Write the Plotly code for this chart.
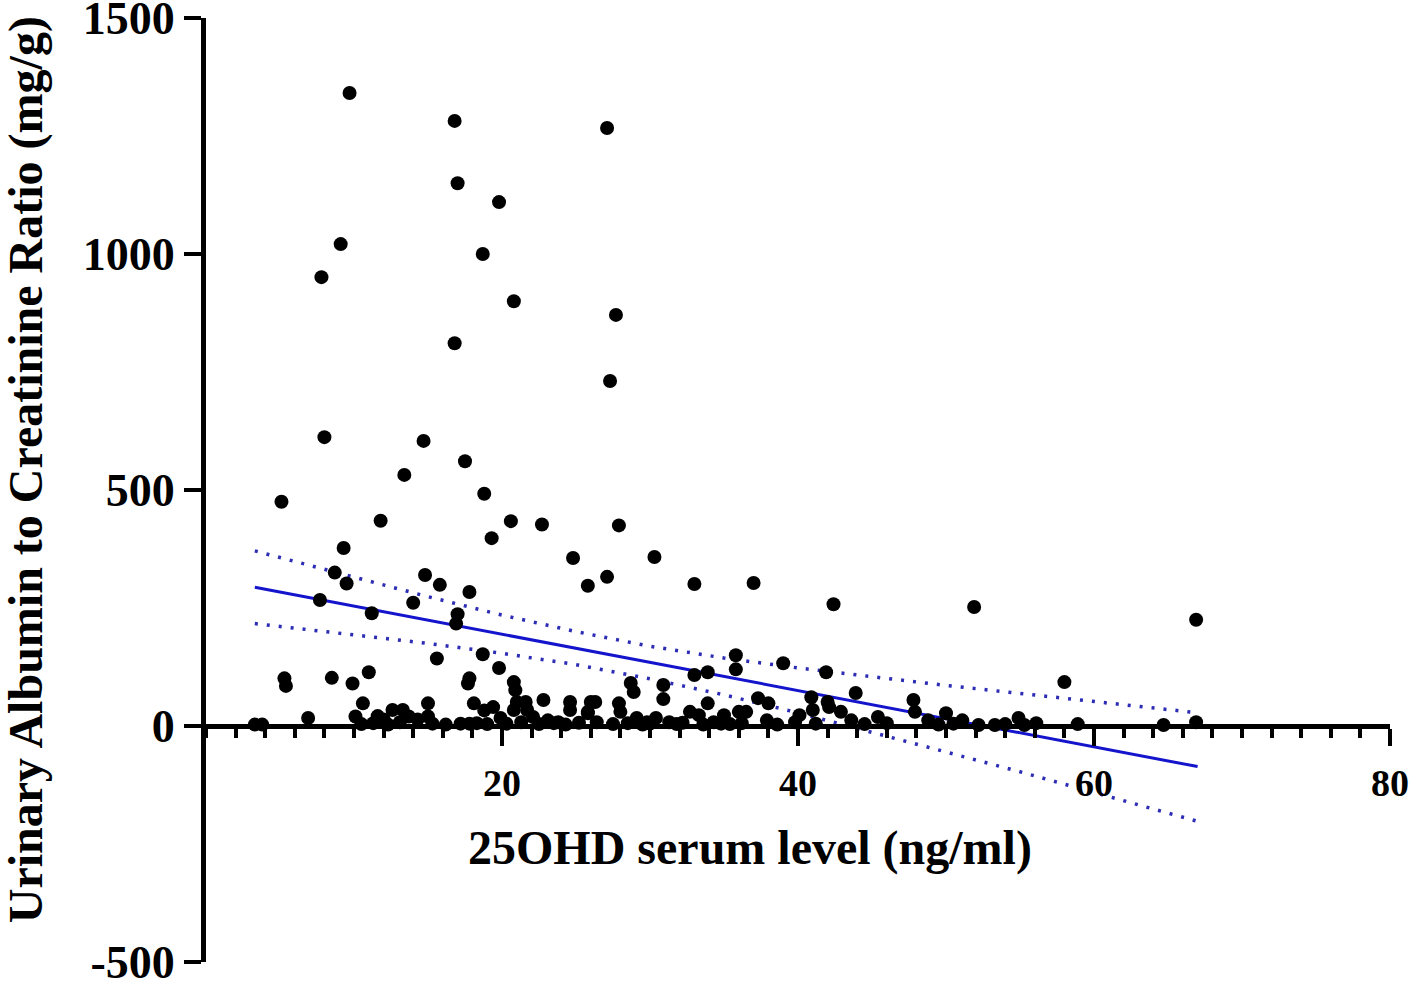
import plotly.graph_objects as go

# Scatter data (25OHD ng/ml, UACR mg/g)
pts = [
    (3.3, 3), (3.8, 3), (5.1, 475), (5.3, 101), (5.4, 85), (6.9, 17), (7.7, 267), (7.8, 951),
    (8.0, 612), (8.5, 102), (8.7, 325), (9.1, 1021), (9.3, 377), (9.5, 302), (9.7, 1341), (9.9, 90),
    (10.1, 20), (10.6, 48), (11.0, 114), (11.2, 239), (11.6, 21), (11.8, 435), (12.0, 14), (12.6, 34),
    (13.3, 34), (13.1, 8), (13.4, 532), (13.7, 20), (14.0, 261), (14.3, 14), (14.7, 604), (14.8, 320),
    (15.0, 48), (15.0, 20), (15.6, 143), (15.8, 299), (16.8, 1282), (16.8, 811), (17.0, 1150), (16.9, 217),
    (17.0, 237), (17.5, 561), (17.8, 284), (17.8, 101), (17.7, 90), (17.2, 5), (17.8, 5), (18.1, 48),
    (18.7, 1000), (18.8, 492), (18.7, 152), (18.8, 33), (19.3, 398), (19.4, 40), (19.8, 1110), (19.8, 123),
    (19.9, 17), (20.6, 434), (20.8, 900), (20.8, 93), (20.9, 76), (21.0, 51), (20.8, 34), (21.6, 51),
    (21.7, 34), (22.1, 19), (22.7, 427), (22.8, 55), (23.1, 12), (23.8, 8), (24.6, 51), (24.6, 34),
    (24.8, 356), (25.8, 297), (25.8, 30), (26.0, 51), (26.3, 51), (25.8, 27), (26.4, 8), (27.1, 316),
    (27.1, 1267), (27.3, 731), (27.7, 871), (27.9, 425), (27.9, 48), (28.0, 30), (28.7, 91), (28.9, 72),
    (29.1, 17), (29.8, 8), (30.3, 358), (30.4, 17), (30.9, 87), (30.9, 57), (31.3, 8), (32.7, 30),
    (33.0, 108), (33.0, 301), (33.9, 114), (33.9, 48), (33.3, 23), (34.3, 8), (35.0, 23), (35.8, 150),
    (35.8, 120), (36.0, 30), (36.5, 30), (37.0, 303), (37.3, 59), (38.0, 48), (37.9, 12), (39.0, 133),
    (39.8, 8), (40.1, 23), (40.9, 61), (41.0, 34), (41.9, 114), (42.0, 51), (42.1, 40), (42.4, 258),
    (42.9, 30), (43.6, 12), (43.9, 70), (45.4, 19), (47.8, 55), (47.9, 30), (48.8, 12), (50.0, 27),
    (51.1, 12), (51.9, 252), (52.2, 2), (53.3, 2), (54.9, 17), (55.3, 2), (56.1, 6), (58.0, 93),
    (58.9, 4), (64.7, 2), (66.9, 225), (66.9, 8),
    (10.5, 4), (11.3, 6), (12.3, 3), (15.3, 5), (16.2, 3), (18.3, 6), (19.0, 4), (20.3, 5),
    (21.3, 8), (22.5, 4), (23.5, 6), (24.3, 3), (25.2, 7), (27.5, 4), (28.5, 6), (29.5, 3),
    (30.0, 5), (31.8, 4), (32.2, 7), (33.6, 3), (34.8, 5), (35.4, 4), (36.2, 6), (38.6, 3),
    (41.2, 5), (44.5, 4), (46.0, 6), (49.5, 3), (50.5, 5), (54.0, 4),
]
vitd = [p[0] for p in pts]
uacr = [p[1] for p in pts]

# Regression line and 95% band
fit_x = [3.3, 10, 15, 20, 25, 30, 35, 40, 45, 50, 55, 60, 67]
fit_y = [294, 254, 224, 195, 165, 135, 105, 75, 46, 16, -14, -44, -86]
band_hi = [371, 315, 274, 235, 200, 169, 144, 123, 104, 86, 69, 52, 28]
band_lo = [217, 193, 175, 154, 130, 100, 66, 28, -13, -55, -97, -140, -202]

x_ticks = [20, 40, 60, 80]
y_ticks = [-500, 0, 500, 1000, 1500]
y_tick_text = ["-500", "0", "500", "1000", "1500"]

FONT = "Liberation Serif"
blue = "#1414cc"
dot_blue = "#2c2cb4"

fig = go.Figure()
fig.add_trace(go.Scatter(x=fit_x, y=band_hi, mode="lines",
                         line=dict(color=dot_blue, width=3.5, dash="3px,9px"), hoverinfo="skip"))
fig.add_trace(go.Scatter(x=fit_x, y=band_lo, mode="lines",
                         line=dict(color=dot_blue, width=3.5, dash="3px,9px"), hoverinfo="skip"))
fig.add_trace(go.Scatter(x=fit_x, y=fit_y, mode="lines",
                         line=dict(color=blue, width=3), hoverinfo="skip"))
fig.add_trace(go.Scatter(x=vitd, y=uacr, mode="markers",
                         marker=dict(color="black", size=14, line=dict(width=0))))

fig.update_layout(
    width=1416, height=983, showlegend=False,
    paper_bgcolor="white", plot_bgcolor="white",
    margin=dict(l=206, r=26, t=18, b=21),
    font=dict(family=FONT, color="black"),
    xaxis=dict(range=[0, 80], tickvals=x_ticks, anchor="free", position=0.25, automargin=False,
               showline=True, linecolor="black", linewidth=5, showgrid=False, zeroline=False,
               ticks="outside", ticklen=17, tickwidth=4, tickcolor="black",
               ticklabeloverflow="allow", ticklabelstandoff=4,
               tickfont=dict(family=FONT, size=38, weight="bold", color="black"),
               minor=dict(dtick=2, tick0=0, ticks="outside", ticklen=9, tickwidth=4, tickcolor="black")),
    yaxis=dict(range=[-500, 1500], tickvals=y_ticks, ticktext=y_tick_text, automargin=False,
               showline=True, linecolor="black", linewidth=5, showgrid=False, zeroline=False,
               ticks="outside", ticklen=17, tickwidth=4, tickcolor="black",
               ticklabeloverflow="allow", ticklabelstandoff=0,
               tickfont=dict(family=FONT, size=46, weight="bold", color="black")),
    annotations=[
        dict(text="25OHD serum level (ng/ml)", xref="paper", yref="paper",
             x=0.4595, y=0.1208, showarrow=False, xanchor="center", yanchor="middle",
             font=dict(family=FONT, size=48, weight="bold", color="black")),
        dict(text="Urinary Albumin to Creatinine Ratio (mg/g)", xref="paper", yref="paper",
             x=-0.1520, y=0.521, showarrow=False, textangle=-90, xanchor="center", yanchor="middle",
             font=dict(family=FONT, size=48, weight="bold", color="black")),
    ],
)

fig.write_html("out.html", config={"displayModeBar": False},
               post_script="document.body.style.margin='0';document.body.style.overflow='hidden';")
